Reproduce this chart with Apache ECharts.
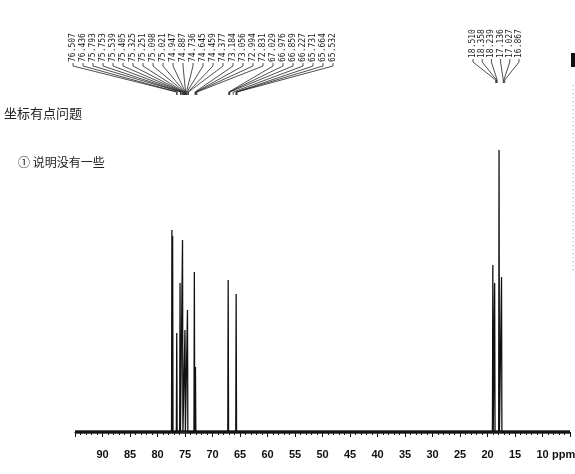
<!DOCTYPE html>
<html>
<head>
<meta charset="utf-8">
<script src="https://cdn.jsdelivr.net/npm/echarts@6/dist/echarts.min.js"></script>
<style>
  html, body { margin: 0; padding: 0; background: #fff; }
  #chart { width: 575px; height: 474px; }
</style>
</head>
<body>
<div id="chart"></div>
<script>
// peak positions (ppm) and heights
const peakPpm = [77.38, 77.25, 76.50, 75.90, 75.45, 75.00, 74.55, 73.30, 73.10, 67.15, 65.70, 19.03, 18.70, 17.90, 17.45];
const peakHeight = [202, 196, 99, 149, 192, 102, 122, 160, 65, 152, 138, 167, 149, 282, 155];

// printed peak labels
const labelsLeft = ['76.507', '76.436', '75.793', '75.753', '75.539', '75.405', '75.325', '75.251', '75.098',
  '75.021', '74.947', '74.887', '74.736', '74.645', '74.459', '74.377', '73.184', '73.056', '72.994',
  '72.831', '67.029', '66.976', '66.859', '66.227', '65.731', '65.664', '65.532'];
const labelsRight = ['18.510', '18.358', '18.239', '17.136', '17.027', '16.867'];

// handwritten notes
const noteLines = ['坐标有点问题', '① 说明没有一些'];

const ppmMin = 5;
const ppmMax = 95;

const chart = echarts.init(document.getElementById('chart'));

// spectrum trace: baseline -> each peak -> baseline
const halfW = 0.07;
const trace = [[ppmMax, 0]];
peakPpm.forEach((p, i) => {
  trace.push([p + halfW, 0], [p, peakHeight[i]], [p - halfW, 0]);
});
trace.push([ppmMin, 0]);

const option = {
  animation: false,
  backgroundColor: '#fff',
  grid: { left: 75, right: 5, top: 132, bottom: 32 },
  xAxis: {
    type: 'value',
    inverse: true,
    min: ppmMin,
    max: ppmMax,
    interval: 5,
    axisLine: { lineStyle: { color: '#111', width: 1 } },
    axisTick: { length: 5, lineStyle: { color: '#111' } },
    minorTick: { show: true, splitNumber: 5, length: 3, lineStyle: { color: '#111' } },
    splitLine: { show: false },
    axisLabel: {
      margin: 7,
      fontSize: 11,
      fontWeight: 'bold',
      fontFamily: 'Liberation Sans',
      color: '#111',
      formatter: v => (v === ppmMin || v === ppmMax) ? '' : String(v)
    }
  },
  yAxis: { type: 'value', min: -10, max: 300, show: false },
  series: [
    {
      name: 'noise',
      type: 'line',
      symbol: 'none',
      silent: true,
      lineStyle: { color: '#222', width: 3.5 },
      data: [[ppmMax, 0], [ppmMin, 0]]
    },
    {
      name: 'spectrum',
      type: 'line',
      symbol: 'none',
      lineStyle: { color: '#111', width: 1.3 },
      data: trace
    }
  ]
};
chart.setOption(option);

const toX = v => chart.convertToPixel({ xAxisIndex: 0 }, v);
const graphic = [];

function addLabels(list, x0, step, yBottom, yFan) {
  list.forEach((t, i) => {
    const lx = x0 + i * step;
    const px = toX(parseFloat(t));
    graphic.push({
      type: 'text',
      x: lx, y: yBottom, rotation: Math.PI / 2,
      style: {
        text: t, fill: '#222', fontSize: 8, fontFamily: 'DejaVu Sans Mono',
        align: 'left', verticalAlign: 'middle'
      }
    });
    graphic.push({
      type: 'polyline',
      shape: { points: [[lx, yBottom + 1], [lx, yBottom + 4], [px, yFan], [px, yFan + 3]] },
      style: { stroke: '#222', lineWidth: 0.8, fill: null }
    });
  });
}
addLabels(labelsLeft, 73, 10, 62, 92);
addLabels(labelsRight, 473, 9.2, 58, 80);

graphic.push({
  type: 'text', x: 4, y: 113,
  style: { text: noteLines[0], fill: '#222', fontSize: 13, fontFamily: 'Noto Sans CJK SC', verticalAlign: 'middle' }
});
graphic.push({
  type: 'text', x: 18, y: 162,
  style: { text: noteLines[1], fill: '#222', fontSize: 12, fontFamily: 'Noto Sans CJK SC', verticalAlign: 'middle' }
});
graphic.push({
  type: 'text', x: 552, y: 455,
  style: { text: 'ppm', fill: '#111', fontSize: 11, fontWeight: 'bold', fontFamily: 'Liberation Sans', verticalAlign: 'middle' }
});
// marks at the right edge
graphic.push({ type: 'rect', shape: { x: 571, y: 53, width: 4, height: 14 }, style: { fill: '#111' } });
graphic.push({
  type: 'line', shape: { x1: 573, y1: 85, x2: 573, y2: 270 },
  style: { stroke: '#999', lineWidth: 1, lineDash: [1, 3] }
});

chart.setOption({ graphic: graphic });
</script>
</body>
</html>
